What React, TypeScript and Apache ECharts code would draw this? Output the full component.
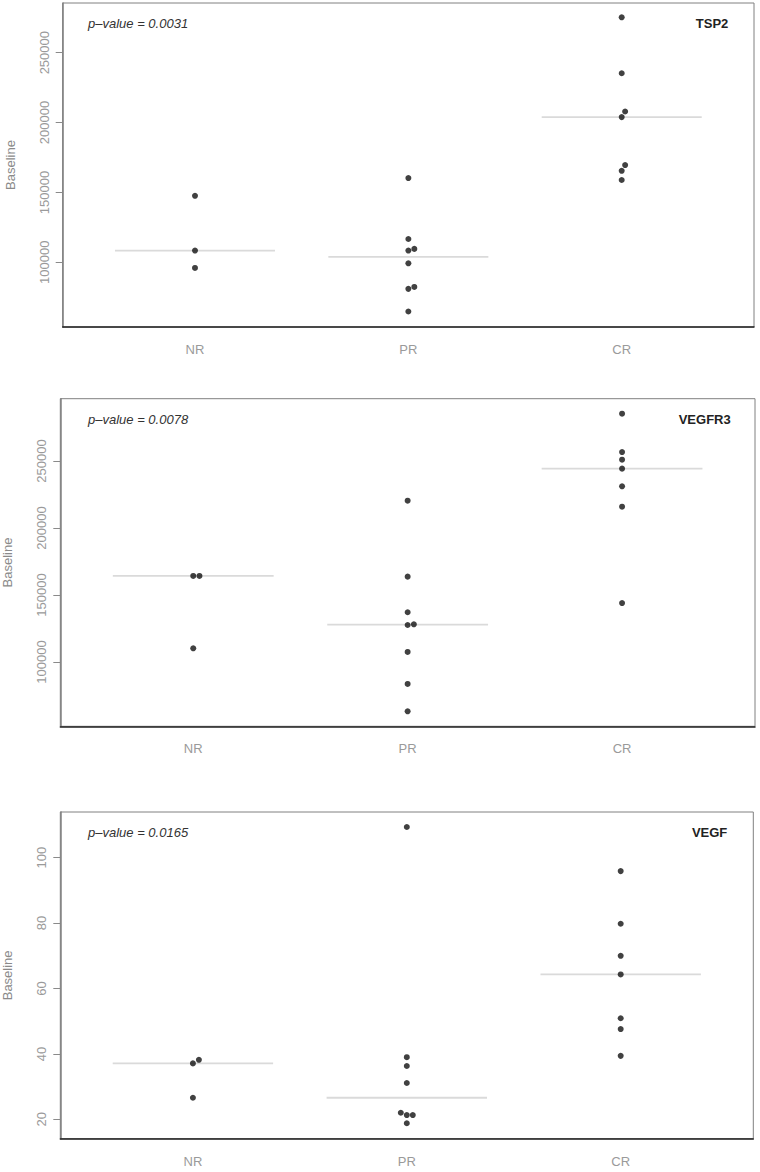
import React, { useEffect, useRef } from "react";
import * as echarts from "echarts";

const categories = ["NR", "PR", "CR"];

// TSP2
const tsp2NR = [147600, 108400, 96000];
const tsp2PR = [160300, 116700, 108400, 109600, 99300, 81000, 82400, 64800];
const tsp2CR = [275300, 235300, 207900, 203900, 169600, 165500, 158900];
const tsp2NRShift = [0, 0, 0];
const tsp2PRShift = [0, 0, 0, 0.028, 0, 0, 0.028, 0];
const tsp2CRShift = [0, 0, 0.016, 0, 0.016, 0, 0];
const tsp2Medians = [108400, 103850, 203900];
const tsp2Ticks = [100000, 150000, 200000, 250000];
const tsp2Range = [53720, 285550];

// VEGFR3
const vegfr3NR = [164200, 164200, 110200];
const vegfr3PR = [220400, 163700, 137100, 127600, 128100, 107500, 83600, 63200];
const vegfr3CR = [285300, 256700, 251000, 244300, 231100, 215900, 144000];
const vegfr3NRShift = [0, 0.029, 0];
const vegfr3PRShift = [0, 0, 0, 0, 0.029, 0, 0, 0];
const vegfr3CRShift = [0, 0, 0, 0, 0, 0, 0];
const vegfr3Medians = [164200, 127850, 244300];
const vegfr3Ticks = [100000, 150000, 200000, 250000];
const vegfr3Range = [52000, 296500];

// VEGF
const vegfNR = [37.1, 38.2, 26.6];
const vegfPR = [109.4, 39.0, 36.3, 31.1, 22.0, 21.3, 21.3, 18.8];
const vegfCR = [95.9, 79.8, 70.0, 64.3, 50.9, 47.6, 39.4];
const vegfNRShift = [0, 0.028, 0];
const vegfPRShift = [0, 0, 0, 0, -0.028, 0, 0.028, 0];
const vegfCRShift = [0, 0, 0, 0, 0, 0, 0];
const vegfMedians = [37.1, 26.6, 64.3];
const vegfTicks = [20, 40, 60, 80, 100];
const vegfRange = [14.07, 113.98];

const pValues = ["p\u2013value = 0.0031", "p\u2013value = 0.0078", "p\u2013value = 0.0165"];
const markers = ["TSP2", "VEGFR3", "VEGF"];

const FONT = "'Liberation Sans', Arial, sans-serif";

export default function App() {
  const ref = useRef<HTMLDivElement>(null);

  useEffect(() => {
    document.body.style.margin = "0";
    if (!ref.current) return;
    const chart = echarts.init(ref.current, null, { renderer: "svg" });

    const panels = [
      { groups: [tsp2NR, tsp2PR, tsp2CR], shifts: [tsp2NRShift, tsp2PRShift, tsp2CRShift], medians: tsp2Medians, ticks: tsp2Ticks, range: tsp2Range },
      { groups: [vegfr3NR, vegfr3PR, vegfr3CR], shifts: [vegfr3NRShift, vegfr3PRShift, vegfr3CRShift], medians: vegfr3Medians, ticks: vegfr3Ticks, range: vegfr3Range },
      { groups: [vegfNR, vegfPR, vegfCR], shifts: [vegfNRShift, vegfPRShift, vegfCRShift], medians: vegfMedians, ticks: vegfTicks, range: vegfRange },
    ];

    const gridBoxes = [
      { left: 62.7, top: 3, width: 691.3, height: 324 },
      { left: 60.3, top: 398.7, width: 694.7, height: 327.6 },
      { left: 60.3, top: 812, width: 693, height: 326.7 },
    ];
    const textCenters = [23, 419, 832.5];
    const markerRight = [31.7, 29.3, 32.7];

    const grid: any[] = [];
    const xAxis: any[] = [];
    const yAxis: any[] = [];
    const series: any[] = [];
    const title: any[] = [];

    panels.forEach((p, k) => {
      const g = gridBoxes[k];
      grid.push({
        left: g.left,
        top: g.top,
        width: g.width,
        height: g.height,
        containLabel: false,
        outerBoundsMode: "none",
        show: true,
        borderColor: "#808080",
        borderWidth: 1,
        backgroundColor: "transparent",
      });
      xAxis.push({
        type: "value",
        gridIndex: k,
        min: 0.38,
        max: 3.62,
        splitLine: { show: false },
        axisLine: { show: true, onZero: false, lineStyle: { color: "#222", width: 1.5 } },
        axisTick: { show: false },
        axisLabel: {
          customValues: [1, 2, 3],
          formatter: (v: number) => categories[Math.round(v) - 1] ?? "",
          color: "#9a9a9a",
          fontFamily: FONT,
          fontSize: 13,
          margin: 16,
        },
      });
      yAxis.push({
        type: "value",
        gridIndex: k,
        min: p.range[0],
        max: p.range[1],
        name: "Baseline",
        nameLocation: "middle",
        nameRotate: 90,
        nameGap: 46,
        nameTextStyle: { color: "#8a8a8a", fontFamily: FONT, fontSize: 13 },
        splitLine: { show: false },
        axisLine: { show: true, onZero: false, lineStyle: { color: "#808080", width: 1.5 } },
        axisTick: { show: true, customValues: p.ticks, length: 7, lineStyle: { color: "#8a8a8a", width: 1 } },
        axisLabel: {
          customValues: p.ticks,
          rotate: 90,
          formatter: (v: number) => String(v),
          color: "#9a9a9a",
          fontFamily: FONT,
          fontSize: 13,
          margin: 12,
        },
      });

      p.medians.forEach((m, i) => {
        series.push({
          type: "line",
          xAxisIndex: k,
          yAxisIndex: k,
          showSymbol: false,
          symbol: "none",
          silent: true,
          z: 1,
          lineStyle: { color: "#dadada", width: 1.8 },
          data: [
            [i + 1 - 0.375, m],
            [i + 1 + 0.375, m],
          ],
        });
      });

      const pts: number[][] = [];
      p.groups.forEach((vals, i) => {
        vals.forEach((v, j) => {
          pts.push([i + 1 + p.shifts[i][j], v]);
        });
      });
      series.push({
        type: "scatter",
        xAxisIndex: k,
        yAxisIndex: k,
        z: 3,
        symbol: "circle",
        symbolSize: 6,
        itemStyle: { color: "#111111" },
        data: pts,
      });

      title.push({
        text: pValues[k],
        left: 88,
        top: textCenters[k] - 8,
        padding: 0,
        textStyle: { fontFamily: FONT, fontSize: 13, fontStyle: "italic", fontWeight: "normal", color: "#333", lineHeight: 16 },
      });
      title.push({
        text: markers[k],
        right: markerRight[k],
        top: textCenters[k] - 8,
        padding: 0,
        textStyle: { fontFamily: FONT, fontSize: 13, fontWeight: "bold", color: "#222", lineHeight: 16 },
      });
    });

    chart.setOption({
      animation: false,
      backgroundColor: "#ffffff",
      title,
      grid,
      xAxis,
      yAxis,
      series,
    });

    return () => chart.dispose();
  }, []);

  return <div ref={ref} style={{ width: 760, height: 1172 }} />;
}
